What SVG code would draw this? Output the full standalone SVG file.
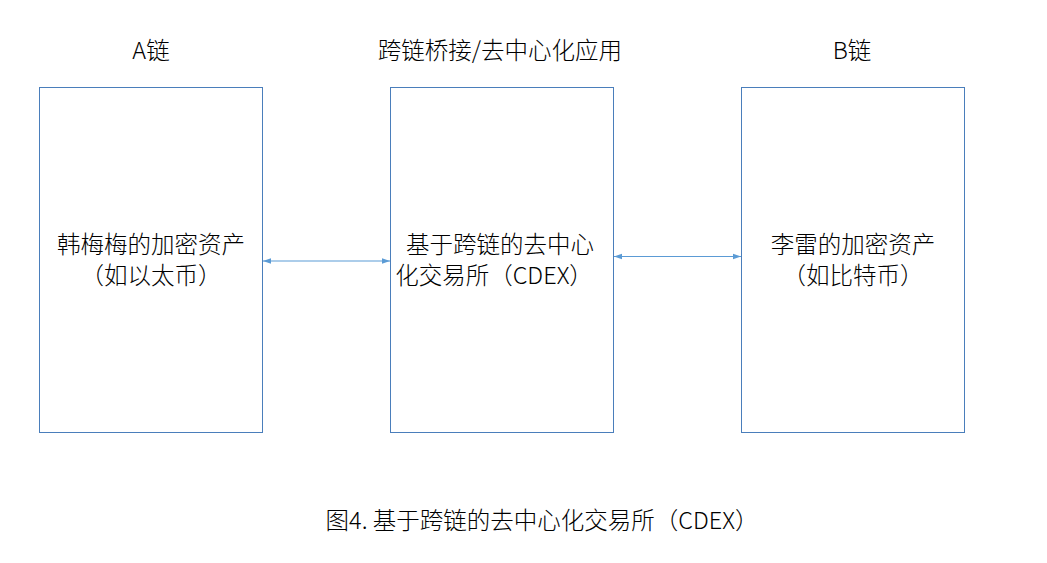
<svg xmlns="http://www.w3.org/2000/svg" width="1047" height="563" viewBox="0 0 1047 563">
<style>
.box{fill:#fff;stroke:#4a7ebb;stroke-width:1}
text{font-family:"Noto Sans CJK SC","Liberation Sans",sans-serif;font-size:23.5px;font-weight:300;fill:#000;text-anchor:middle}
.ln{stroke:#5b9bd5;stroke-width:1.2;fill:none;marker-start:url(#a);marker-end:url(#a)}
</style>
<defs><marker id="a" viewBox="0 0 10 10" refX="10" refY="5" markerWidth="8" markerHeight="8" orient="auto-start-reverse" markerUnits="userSpaceOnUse"><path d="M0,1.5 L10,5 L0,8.5 Z" fill="#5b9bd5"/></marker></defs>
<rect width="1047" height="563" fill="#fff"/>
<text x="151" y="59">A链</text>
<text x="500" y="59">跨链桥接/去中心化应用</text>
<text x="852" y="59">B链</text>
<g id="nodeA"><rect class="box" x="39.500" y="87.500" width="223" height="345"/><text x="151" y="253">韩梅梅的加密资产</text><text x="151" y="284">（如以太币）</text></g>
<g id="nodeC"><rect class="box" x="390.500" y="87.500" width="223" height="345"/><text x="500" y="253">基于跨链的去中心</text><text x="494" y="284">化交易所（CDEX）</text></g>
<g id="nodeB"><rect class="box" x="741.500" y="87.500" width="223" height="345"/><text x="853" y="253">李雷的加密资产</text><text x="853" y="284">（如比特币）</text></g>
<g id="edges"><line class="ln" x1="263" y1="261" x2="390" y2="261"/><line class="ln" x1="614" y1="256.500" x2="741" y2="256.500"/></g>
<text x="542" y="529">图4. 基于跨链的去中心化交易所（CDEX）</text>
</svg>
